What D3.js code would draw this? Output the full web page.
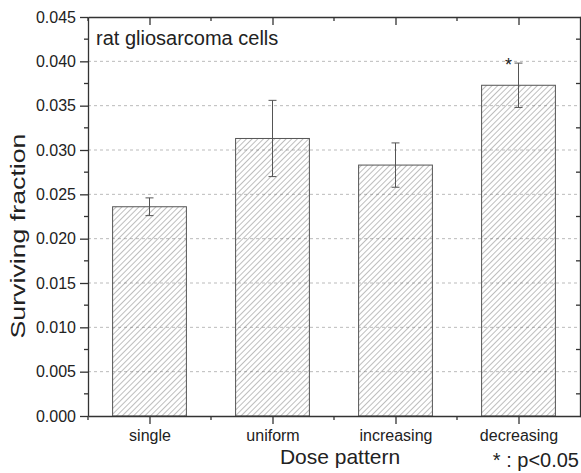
<!DOCTYPE html>
<html>
<head>
<meta charset="utf-8">
<script src="https://cdn.jsdelivr.net/npm/d3@7"></script>
<style>
  body { margin: 0; background: #fff; }
  svg { display: block; font-family: "Liberation Sans", Arial, sans-serif; }
  .axis path, .axis line { stroke: #333; }
  .axis text { fill: #222; font-size: 16px; }
</style>
</head>
<body>
<svg id="chart" width="581" height="473"></svg>
<script>
// data
const categories = ["single", "uniform", "increasing", "decreasing"];
const survival = [0.0236, 0.0313, 0.0283, 0.0373];
const errors = [0.0010, 0.0043, 0.0025, 0.0025];
const significant = [false, false, false, true];
const yTicks = [0, 0.005, 0.01, 0.015, 0.02, 0.025, 0.03, 0.035, 0.04, 0.045];

const width = 581;
const height = 473;
const margin = { top: 17, right: 1, bottom: 57, left: 88 };

const svg = d3.select("#chart");

const x = d3.scaleLinear().domain([0.5, 4.5]).range([margin.left, width - margin.right]);
const y = d3.scaleLinear().domain([0, 0.045]).range([height - margin.bottom, margin.top]);

// hatch pattern for the bars
svg.append("defs")
  .append("pattern")
  .attr("id", "hatch")
  .attr("patternUnits", "userSpaceOnUse")
  .attr("width", 4)
  .attr("height", 4)
  .attr("patternTransform", "rotate(45)")
  .append("line")
  .attr("x1", 0).attr("y1", 0)
  .attr("x2", 0).attr("y2", 4)
  .attr("stroke", "#6f6f6f")
  .attr("stroke-width", 0.9);

// dashed gridlines
const majorY = yTicks.slice(1, -1);
svg.append("g")
  .selectAll("line")
  .data(majorY)
  .join("line")
  .attr("x1", x.range()[0])
  .attr("x2", x.range()[1])
  .attr("y1", (d) => y(d))
  .attr("y2", (d) => y(d))
  .attr("stroke", "#bbb")
  .attr("stroke-width", 1)
  .attr("stroke-dasharray", "3,3");

// bars
const barW = (x(2) - x(1)) * 0.6;
svg.append("g")
  .selectAll("rect")
  .data(survival)
  .join("rect")
  .attr("x", (d, i) => x(i + 1) - barW / 2)
  .attr("y", (d) => y(d))
  .attr("width", barW)
  .attr("height", (d) => y(0) - y(d))
  .attr("fill", "url(#hatch)")
  .attr("stroke", "#555")
  .attr("stroke-width", 1);

// error bars
const err = svg.append("g").attr("stroke", "#555").attr("stroke-width", 1);
survival.forEach((v, i) => {
  const cx = x(i + 1);
  err.append("line").attr("x1", cx).attr("x2", cx).attr("y1", y(v - errors[i])).attr("y2", y(v + errors[i]));
  err.append("line").attr("x1", cx - 4).attr("x2", cx + 4).attr("y1", y(v + errors[i])).attr("y2", y(v + errors[i]));
  err.append("line").attr("x1", cx - 4).attr("x2", cx + 4).attr("y1", y(v - errors[i])).attr("y2", y(v - errors[i]));
  if (significant[i]) {
    svg.append("text")
      .attr("x", cx - 10)
      .attr("y", y(v + errors[i]) + 8)
      .attr("text-anchor", "middle")
      .attr("font-size", 18)
      .attr("fill", "#222")
      .text("*");
  }
});

// minor tick positions
const minorY = d3.range(0.0025, 0.045, 0.005);
const minorX = [0.5, 1.5, 2.5, 3.5];

// left axis
const leftAxis = svg.append("g").attr("class", "axis").attr("transform", `translate(${x.range()[0]},0)`);
leftAxis.call(d3.axisLeft(y).tickValues(yTicks).tickFormat(d3.format(".3f")).tickSize(8).tickPadding(4).tickSizeOuter(0));
leftAxis.append("g").selectAll("line").data(minorY).join("line")
  .attr("x1", -4).attr("x2", 0).attr("y1", (d) => y(d)).attr("y2", (d) => y(d));

// right axis
const rightAxis = svg.append("g").attr("class", "axis").attr("transform", `translate(${x.range()[1]},0)`);
rightAxis.call(d3.axisLeft(y).tickValues(yTicks).tickFormat("").tickSize(-8).tickSizeOuter(0));
rightAxis.append("g").selectAll("line").data(minorY).join("line")
  .attr("x1", -4).attr("x2", 0).attr("y1", (d) => y(d)).attr("y2", (d) => y(d));

// bottom axis
const bottomAxis = svg.append("g").attr("class", "axis").attr("transform", `translate(0,${y(0)})`);
bottomAxis.call(d3.axisBottom(x).tickValues([1, 2, 3, 4]).tickFormat((d) => categories[d - 1]).tickSize(8).tickPadding(6).tickSizeOuter(0));
bottomAxis.append("g").selectAll("line").data(minorX).join("line")
  .attr("x1", (d) => x(d)).attr("x2", (d) => x(d)).attr("y1", 0).attr("y2", 4);

// top axis
const topAxis = svg.append("g").attr("class", "axis").attr("transform", `translate(0,${y(0.045)})`);
topAxis.call(d3.axisTop(x).tickValues([1, 2, 3, 4]).tickFormat("").tickSize(-8).tickSizeOuter(0));
topAxis.append("g").selectAll("line").data(minorX).join("line")
  .attr("x1", (d) => x(d)).attr("x2", (d) => x(d)).attr("y1", 0).attr("y2", 4);

svg.selectAll(".axis path, .axis line").attr("stroke-width", 1.3);

// labels
svg.append("text")
  .attr("x", 96)
  .attr("y", 45)
  .attr("font-size", 20)
  .attr("fill", "#222")
  .text("rat gliosarcoma cells");

svg.append("text")
  .attr("x", 340)
  .attr("y", 464)
  .attr("text-anchor", "middle")
  .attr("font-size", 21)
  .attr("fill", "#222")
  .text("Dose pattern");

svg.append("text")
  .attr("x", 579)
  .attr("y", 467)
  .attr("text-anchor", "end")
  .attr("font-size", 20)
  .attr("fill", "#222")
  .text("* : p<0.05");

svg.append("text")
  .attr("transform", "translate(25,236) rotate(-90)")
  .attr("text-anchor", "middle")
  .attr("font-size", 21)
  .attr("textLength", 205)
  .attr("lengthAdjust", "spacingAndGlyphs")
  .attr("fill", "#222")
  .text("Surviving fraction");
</script>
</body>
</html>
